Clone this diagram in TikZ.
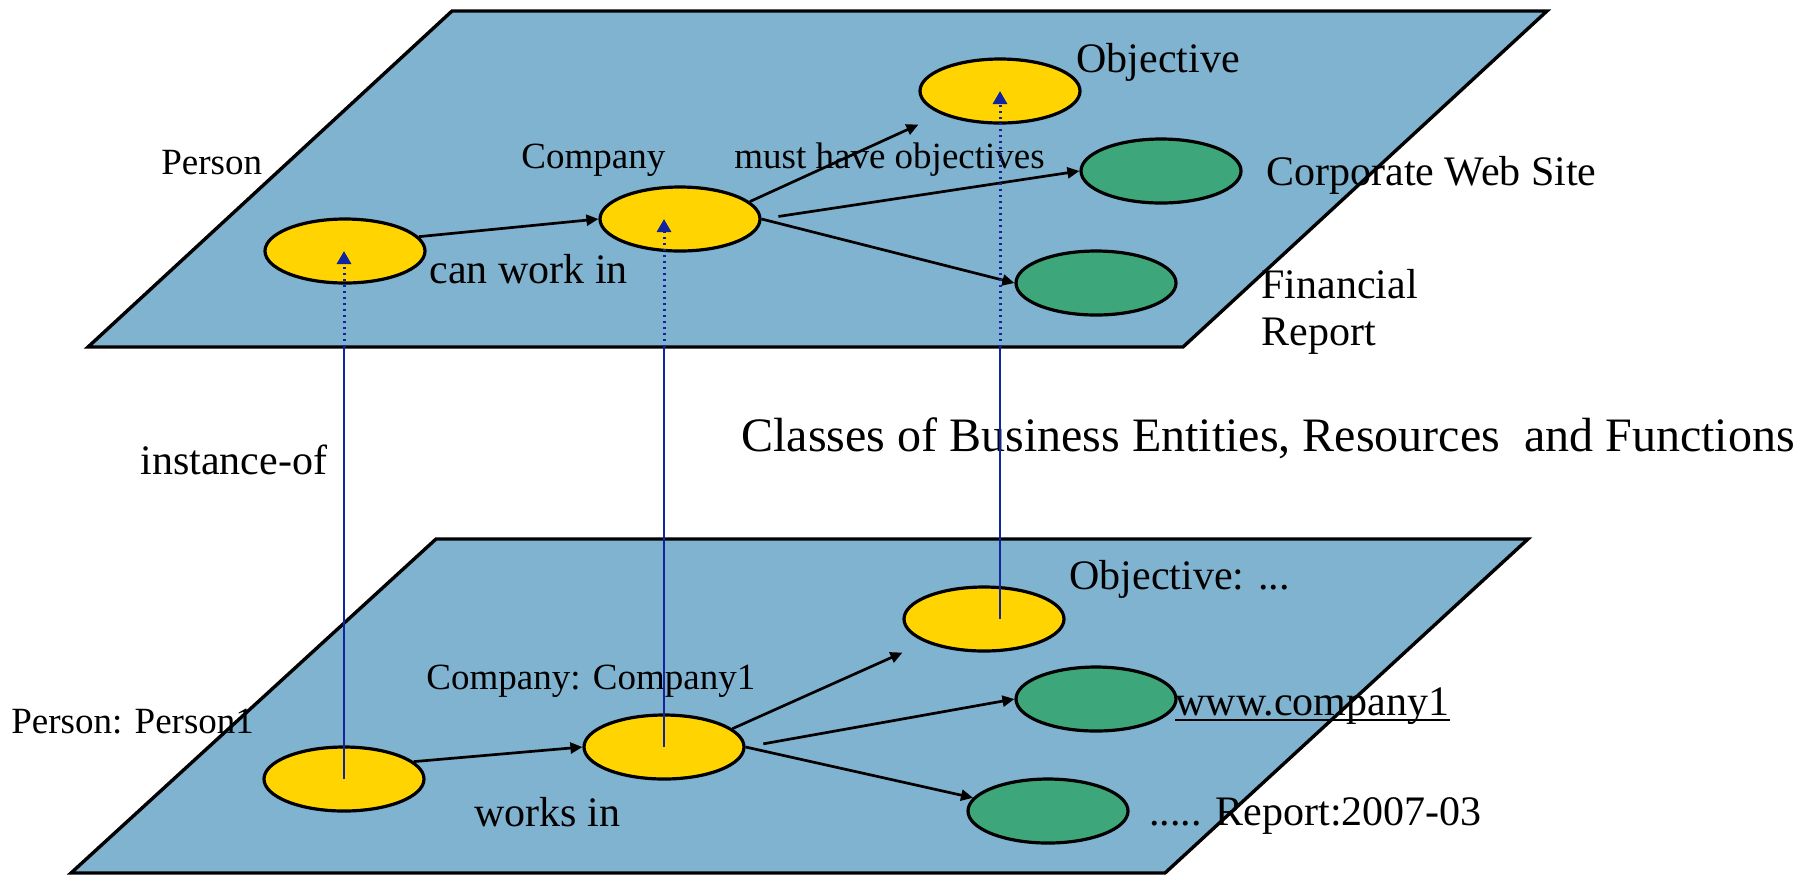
\documentclass[tikz,border=0pt]{standalone}
\usepackage{fontspec}
\setmainfont{Liberation Serif}
\usetikzlibrary{shapes.geometric,arrows.meta,calc}
\definecolor{planeblue}{RGB}{128,179,208}
\definecolor{ovyellow}{RGB}{255,212,0}
\definecolor{ovgreen}{RGB}{61,167,123}
\definecolor{instblue}{RGB}{16,36,160}
\begin{document}
\begin{tikzpicture}[x=0.5pt,y=-0.5pt,
 plane/.style={fill=planeblue,draw=black,line width=1.7pt,line join=miter},
 cls/.style={ellipse,draw=black,line width=1.6pt,minimum width=80pt,minimum height=32pt,inner sep=0pt},
 yel/.style={cls,fill=ovyellow},
 grn/.style={cls,fill=ovgreen},
 rel/.style={draw=black,line width=1.35pt,-{Triangle[length=6pt,width=5.5pt]}},
 inst/.style={draw=instblue,line width=1.3pt},
 instdot/.style={draw=instblue,line width=1.5pt,dash pattern=on 1.2pt off 1.8pt,-{Triangle[length=6.5pt,width=7pt]}},
 lblS/.style={anchor=base west,inner sep=0pt,font=\fontsize{18.5}{22}\selectfont},
 lblL/.style={anchor=base west,inner sep=0pt,font=\fontsize{21}{25}\selectfont},
 lblXL/.style={anchor=base west,inner sep=0pt,font=\fontsize{24}{28}\selectfont}]
\useasboundingbox (0,0) rectangle (1813,875);
% planes
\coordinate (tTL) at (452,11);
\coordinate (tTR) at (1547,11);
\coordinate (tBR) at (1183,347);
\coordinate (tBL) at (88,347);
\coordinate (bTL) at (436,539);
\coordinate (bTR) at (1528,539);
\coordinate (bBR) at (1165,873);
\coordinate (bBL) at (71,873);
\draw[plane] (tTL) -- (tTR) -- (tBR) -- (tBL) -- cycle;
\draw[plane] (bTL) -- (bTR) -- (bBR) -- (bBL) -- cycle;
% class nodes
\node[yel] (P) at (345,251) {};
\node[yel] (C) at (680,219) {};
\node[yel] (O) at (1000,91) {};
\node[grn] (W) at (1161,171) {};
\node[grn] (F) at (1096,283) {};
% instance nodes
\node[yel] (P1) at (344,779) {};
\node[yel] (C1) at (664,747) {};
\node[yel] (O1) at (984,619) {};
\node[grn] (W1) at (1096,699) {};
\node[grn] (R1) at (1048,811) {};
% relations
\draw[rel] (P.11) -- (C.west);
\draw[rel] (C.14) -- (O.west |- O.south);
\draw[rel,shorten <=8.5pt] (C.east) -- (W.west);
\draw[rel] (C.east) -- (F.west);
\draw[rel] (P1.14) -- (C1.west);
\draw[rel] (C1.15) -- (O1.west |- O1.south);
\draw[rel,shorten <=9pt] (C1.east) -- (W1.west);
\draw[rel] (C1.east) -- (R1.170);
% labels
\node[lblS] (tPerson) at (161,174) {Person};
\node[lblS] (tCompany) at (521,168) {Company};
\node[lblL] (tCanwork) at (429,283) {can work in};
\node[lblS] (tMust) at (734,168) {must have objectives};
\node[lblL] (tObj) at (1076,72) {Objective};
\node[lblL] (tCorp) at (1266,185) {Corporate Web Site};
\node[lblL] (tFin) at (1261,298) {Financial};
\node[lblL] (tRep) at (1261,345) {Report};
\node[lblXL] (tClasses) at (741,451) {Classes of Business Entities, Resources\ \ and Functions};
\node[lblL] (tInst) at (140,474) {instance-of};
\node[lblS] (tPerson1) at (11,733) {Person: Person1};
\node[lblS] (tCompany1) at (426,689) {Company: Company1};
\node[lblL] (tWorks) at (474,826) {works in};
\node[lblL] (tObj1) at (1069,589) {Objective: ...};
\node[lblL] (tWww) at (1175,715) {www.company1};
\draw[line width=1.1pt] ([yshift=-2.5pt]tWww.base west) -- ([yshift=-2.5pt]tWww.base east);
\node[lblL] (tRep1) at (1149,825) {..... Report:2007-03};
% instance-of links
\coordinate (e1) at (P1.center |- tBL);
\draw[inst] (P1.center) -- (e1);
\draw[instdot] (e1) -- (P1.center |- P.center);
\coordinate (e2) at (C1.center |- tBL);
\draw[inst] (C1.center) -- (e2);
\draw[instdot] (e2) -- (C1.center |- C.center);
\coordinate (e3) at (O.center |- tBL);
\draw[inst] (O.center |- O1.center) -- (e3);
\draw[instdot] (e3) -- (O.center);
\end{tikzpicture}
\end{document}
